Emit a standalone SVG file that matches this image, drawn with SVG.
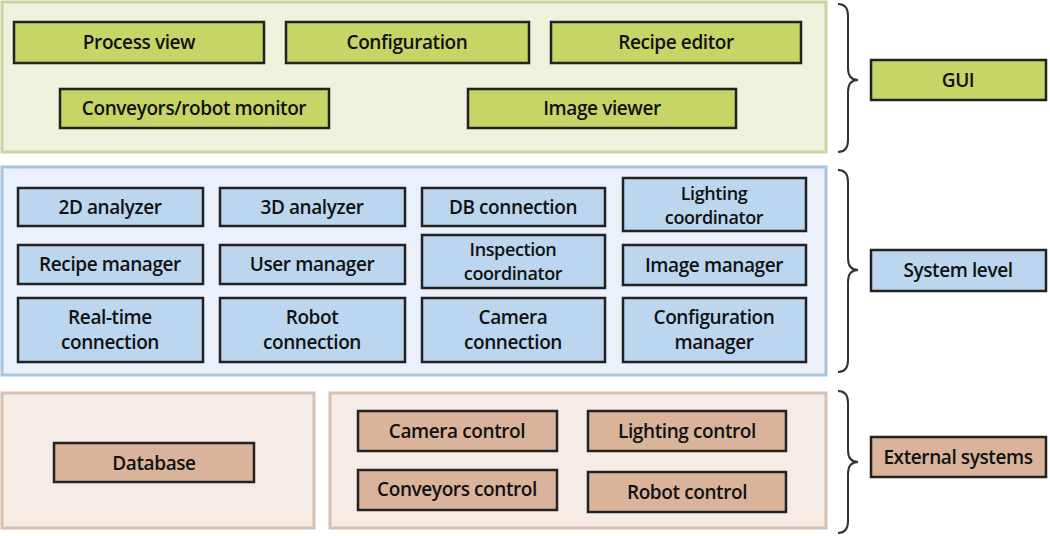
<svg xmlns="http://www.w3.org/2000/svg" width="1050" height="536" viewBox="0 0 1050 536">
<style>
text{font-family:"Open Sans","DejaVu Sans",sans-serif;font-weight:600;font-size:19px;fill:#111;text-anchor:middle;letter-spacing:-0.4px}
.t{font-size:18px}
.b{stroke:#222;stroke-width:2.5}
.g{fill:#c6d566}.s{fill:#bcd6f0}.e{fill:#d9b49a}
.br{fill:none;stroke:#333;stroke-width:2}
</style>
<rect width="1050" height="536" fill="#fff"/>
<g id="panels">
<rect x="2" y="2" width="824" height="150" fill="#eef2dc" stroke="#c9d4a0" stroke-width="3"/>
<rect x="2" y="167" width="824" height="208" fill="#eaf1fa" stroke="#a9c4e0" stroke-width="3"/>
<rect x="2" y="393" width="312" height="135" fill="#f6ece6" stroke="#d8c0b0" stroke-width="3"/>
<rect x="330" y="393" width="496" height="135" fill="#f6ece6" stroke="#d8c0b0" stroke-width="3"/>
</g>
<g id="n-process"><rect class="b g" x="14" y="22" width="250" height="41"/><text x="139" y="49">Process view</text></g>
<g id="n-config"><rect class="b g" x="286" y="22" width="243" height="41"/><text x="407" y="49">Configuration</text></g>
<g id="n-recipe-ed"><rect class="b g" x="551" y="22" width="250" height="41"/><text x="676" y="49">Recipe editor</text></g>
<g id="n-conv-mon"><rect class="b g" x="60" y="89" width="269" height="39"/><text x="194" y="115">Conveyors/robot monitor</text></g>
<g id="n-imgview"><rect class="b g" x="468" y="89" width="268" height="39"/><text x="602" y="115">Image viewer</text></g>
<g id="n-gui"><rect class="b g" x="871" y="60" width="175" height="40"/><text x="958" y="87">GUI</text></g>

<g id="n-2d"><rect class="b s" x="18" y="188" width="185" height="38"/><text x="110" y="214">2D analyzer</text></g>
<g id="n-3d"><rect class="b s" x="220" y="188" width="185" height="38"/><text x="312" y="214">3D analyzer</text></g>
<g id="n-db"><rect class="b s" x="422" y="188" width="183" height="38"/><text x="513" y="214">DB connection</text></g>
<g id="n-light"><rect class="b s" x="623" y="178" width="183" height="53"/><text class="t" x="714" y="200">Lighting</text><text class="t" x="714" y="224">coordinator</text></g>
<g id="n-recipe-m"><rect class="b s" x="18" y="245" width="185" height="39"/><text x="110" y="271">Recipe manager</text></g>
<g id="n-user"><rect class="b s" x="220" y="245" width="185" height="39"/><text x="312" y="271">User manager</text></g>
<g id="n-insp"><rect class="b s" x="422" y="235" width="183" height="53"/><text class="t" x="513" y="256">Inspection</text><text class="t" x="513" y="280">coordinator</text></g>
<g id="n-imgman"><rect class="b s" x="623" y="245" width="183" height="40"/><text x="714" y="272">Image manager</text></g>
<g id="n-rt"><rect class="b s" x="18" y="298" width="185" height="64"/><text x="110" y="324">Real-time</text><text x="110" y="349">connection</text></g>
<g id="n-robotc"><rect class="b s" x="220" y="298" width="185" height="64"/><text x="312" y="324">Robot</text><text x="312" y="349">connection</text></g>
<g id="n-camc"><rect class="b s" x="422" y="298" width="183" height="64"/><text x="513" y="324">Camera</text><text x="513" y="349">connection</text></g>
<g id="n-cfgman"><rect class="b s" x="623" y="298" width="183" height="64"/><text x="714" y="324">Configuration</text><text x="714" y="349">manager</text></g>
<g id="n-sys"><rect class="b s" x="871" y="250" width="175" height="41"/><text x="958" y="277">System level</text></g>

<g id="n-database"><rect class="b e" x="54" y="443" width="200" height="39"/><text x="154" y="470">Database</text></g>
<g id="n-camctl"><rect class="b e" x="358" y="411" width="199" height="40"/><text x="457" y="438">Camera control</text></g>
<g id="n-lightctl"><rect class="b e" x="588" y="411" width="198" height="40"/><text x="687" y="438">Lighting control</text></g>
<g id="n-convctl"><rect class="b e" x="358" y="470" width="199" height="40"/><text x="457" y="496">Conveyors control</text></g>
<g id="n-robotctl"><rect class="b e" x="588" y="472" width="198" height="40"/><text x="687" y="499">Robot control</text></g>
<g id="n-ext"><rect class="b e" x="871" y="437" width="175" height="40"/><text x="958" y="464">External systems</text></g>

<g id="connectors">
<path class="br" d="M838,4 Q848,4 848,16 L848,68 Q848,80 858,80 Q848,80 848,92 L848,140 Q848,152 838,152"/>
<path class="br" d="M838,170 Q848,170 848,182 L848,258 Q848,270 858,270 Q848,270 848,282 L848,360 Q848,372 838,372"/>
<path class="br" d="M838,391 Q848,391 848,403 L848,450 Q848,462 858,462 Q848,462 848,474 L848,521 Q848,533 838,533"/>
</g>
</svg>
